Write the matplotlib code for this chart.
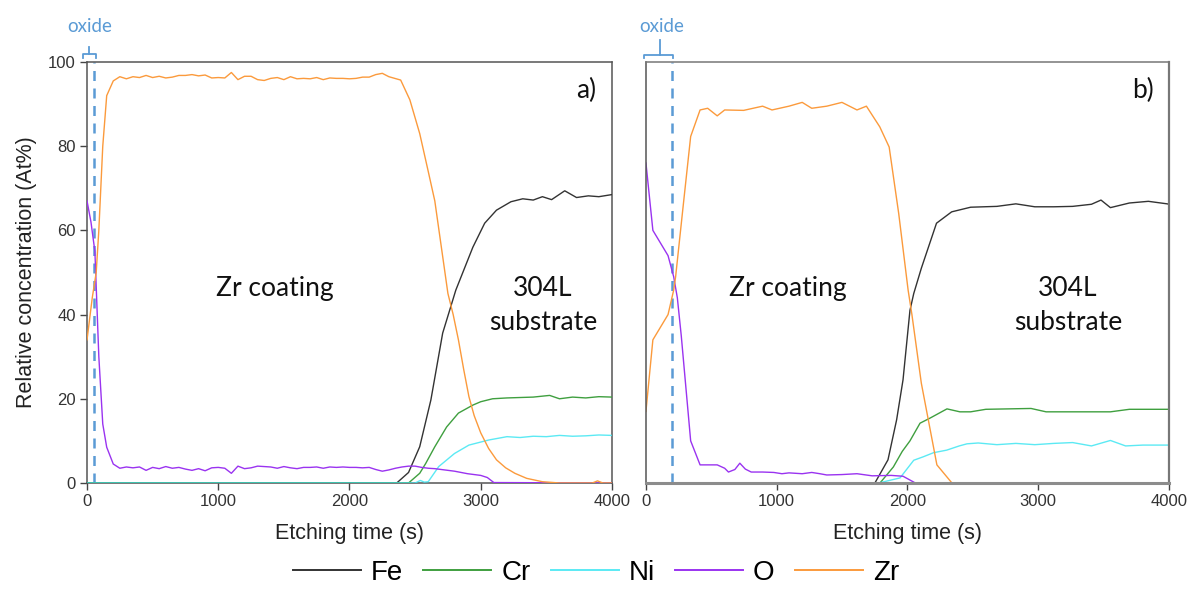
import matplotlib
matplotlib.use("Agg")
import matplotlib.pyplot as plt

plt.rcParams['font.family'] = ['Liberation Sans', 'DejaVu Sans']

# colours
C_FE = '#333333'
C_CR = '#3f9f3f'
C_NI = '#3fe6f2'
C_O = '#9a33f0'
C_ZR = '#fb9a3c'
C_OX = '#5b9bd5'

# ---- panel a) ----
fe_a_t = [0, 2360, 2450, 2535, 2620, 2710, 2810, 2940, 3030, 3120, 3230, 3320, 3400, 3470, 3540, 3640, 3730, 3820, 3900, 4000]
fe_a = [0, 0, 2.5, 8.6, 19.7, 35.6, 45.8, 56, 61.7, 64.8, 66.8, 67.5, 67.2, 68, 67.3, 69.4, 67.8, 68.2, 68.0, 68.5]

cr_a_t = [0, 2450, 2535, 2580, 2650, 2740, 2830, 2940, 3000, 3090, 3200, 3300, 3400, 3525, 3600, 3700, 3800, 3900, 4000]
cr_a = [0, 0, 2.3, 4.6, 8.6, 13.3, 16.6, 18.5, 19.3, 20.0, 20.2, 20.3, 20.4, 20.8, 20.0, 20.4, 20.2, 20.5, 20.4]

ni_a_t = [0, 2500, 2540, 2570, 2600, 2680, 2800, 2910, 3060, 3200, 3300, 3400, 3500, 3600, 3700, 3800, 3900, 4000]
ni_a = [0, 0, 0.6, 0.2, 0.3, 3.9, 7.0, 9.0, 10.2, 11.0, 10.8, 11.1, 11.0, 11.3, 11.1, 11.2, 11.4, 11.3]

o_a_t = [0, 30, 60, 90, 120, 150, 200, 250, 300, 350, 400, 450, 500, 550, 600, 650, 700, 750, 800,
         850, 900, 950, 1000, 1050, 1100, 1150, 1200, 1250, 1300, 1350, 1400, 1450, 1500, 1550, 1600,
         1650, 1700, 1750, 1800, 1850, 1900, 1950, 2000, 2050, 2100, 2150, 2200, 2250, 2300, 2350,
         2400, 2450, 2500, 2550, 2600, 2650, 2700, 2750, 2800, 2850, 2900, 2950, 3000, 3050, 3100, 4000]
o_a = [67, 62, 55, 30, 14, 8.5, 4.5, 3.5, 3.8, 3.6, 3.8, 3.0, 3.7, 3.4, 3.9, 3.5, 3.7, 3.3, 3.0,
       3.4, 2.9, 3.6, 3.7, 3.5, 2.3, 4.0, 3.4, 3.6, 4.0, 3.9, 3.8, 3.5, 3.9, 3.6, 3.4,
       3.7, 3.7, 3.8, 3.5, 3.8, 3.7, 3.8, 3.7, 3.7, 3.6, 3.7, 3.2, 2.8, 3.1, 3.5,
       3.8, 4.0, 4.0, 3.7, 3.5, 3.4, 3.2, 3.0, 2.8, 2.5, 2.2, 2.0, 1.8, 1.3, 0.1, 0]

zr_a_t = [0, 40, 70, 90, 120, 150, 200, 250, 300, 350, 400, 450, 500, 550, 600, 650, 700, 750, 800,
          850, 900, 950, 1000, 1050, 1100, 1150, 1200, 1250, 1300, 1350, 1400, 1450, 1500, 1550, 1600,
          1650, 1700, 1750, 1800, 1850, 1900, 1950, 2000, 2050, 2100, 2150, 2200, 2250, 2300, 2390,
          2460, 2535, 2600, 2650, 2700, 2750, 2790, 2830, 2870, 2910, 2950, 3000, 3060, 3120, 3190,
          3260, 3350, 3470, 3600, 3850, 3890, 3930, 4000]
zr_a = [34, 44, 50, 60, 80, 92, 95.5, 96.5, 96, 96.5, 96.3, 96.8, 96.3, 96.6, 96.2, 96.4, 96.8, 96.8, 97,
        96.7, 96.9, 96.2, 96.3, 96.2, 97.5, 95.8, 96.6, 96.6, 95.8, 95.6, 96.1, 96.3, 95.8, 96.5, 96,
        96.1, 96, 96.3, 95.8, 96.2, 96.1, 96.1, 96, 96.1, 96.4, 96.4, 97, 97.3, 96.5, 95.7,
        91, 83, 74, 67, 56, 45, 40, 34, 27, 20.5, 16, 11.9, 8.2, 5.5, 3.6,
        2.3, 1.1, 0.3, 0, 0, 0.5, 0, 0]

# ---- panel b) ----
fe_b_t = [0, 1751, 1851, 1917, 1966, 2019, 2048, 2106, 2222, 2338, 2483, 2684, 2829, 2974, 3118, 3263, 3407, 3480, 3552, 3697, 3842, 3986, 4000]
fe_b = [0, 0, 5.5, 15, 24.5, 41, 45, 51, 61.7, 64.4, 65.5, 65.7, 66.3, 65.6, 65.6, 65.7, 66.2, 67.2, 65.4, 66.5, 66.9, 66.3, 66.2]

cr_b_t = [0, 1790, 1892, 1960, 2019, 2096, 2172, 2302, 2401, 2483, 2599, 2945, 3060, 3300, 3552, 3697, 4000]
cr_b = [0, 0, 3.8, 7.5, 10, 14.2, 15.4, 17.6, 16.9, 16.9, 17.5, 17.7, 16.9, 16.9, 16.9, 17.5, 17.5]

ni_b_t = [0, 1780, 1943, 2048, 2119, 2200, 2300, 2396, 2455, 2541, 2684, 2829, 2974, 3118, 3263, 3407, 3552, 3668, 3800, 4000]
ni_b = [0, 0, 1.2, 5.4, 6.2, 7.2, 7.8, 8.8, 9.3, 9.5, 9.1, 9.4, 9.1, 9.4, 9.6, 8.8, 10.1, 8.8, 9.0, 9.0]

o_b_t = [0, 53, 169, 212, 240, 270, 342, 414, 545, 602, 631, 680, 718, 760, 805, 892, 978, 1040, 1094,
         1195, 1268, 1330, 1383, 1499, 1614, 1730, 1875, 1966, 2019, 2060]
o_b = [76, 60, 54, 49, 44, 35, 10, 4.3, 4.3, 3.5, 2.6, 3.2, 4.7, 3.3, 2.6, 2.6, 2.5, 2.2, 2.4,
       2.2, 2.5, 2.2, 1.9, 2.0, 2.2, 1.7, 1.8, 1.6, 0.7, 0]

zr_b_t = [0, 53, 169, 212, 227, 284, 342, 414, 472, 545, 602, 747, 892, 964, 1094, 1195, 1268, 1383,
          1499, 1614, 1686, 1788, 1860, 1933, 2005, 2034, 2106, 2225, 2340]
zr_b = [17, 34, 40, 45.8, 49, 65.6, 82.3, 88.6, 89, 87.2, 88.6, 88.5, 89.5, 88.6, 89.5, 90.4, 89, 89.5,
        90.4, 88.6, 89.5, 84.6, 79.8, 64, 45.8, 40, 23.7, 4.3, 0]

x_ticks = [0, 1000, 2000, 3000, 4000]
y_ticks = [0, 20, 40, 60, 80, 100]
oxide_a = 55
oxide_b = 200

fig = plt.figure(figsize=(11.92, 5.89), dpi=100)
ax_a = fig.add_axes([0.073, 0.180, 0.4404, 0.7148])
ax_b = fig.add_axes([0.5419, 0.180, 0.4388, 0.7148])

panels = [
    (ax_a, (fe_a_t, fe_a), (cr_a_t, cr_a), (ni_a_t, ni_a), (o_a_t, o_a), (zr_a_t, zr_a), oxide_a, 'a)'),
    (ax_b, (fe_b_t, fe_b), (cr_b_t, cr_b), (ni_b_t, ni_b), (o_b_t, o_b), (zr_b_t, zr_b), oxide_b, 'b)'),
]

handles = []
for ax, fe, cr, ni, o, zr, ox, tag in panels:
    lw = 1.0
    zo = 3 if tag == 'a)' else 2
    h_fe, = ax.plot(*fe, color=C_FE, lw=lw, label='Fe', zorder=zo)
    h_cr, = ax.plot(*cr, color=C_CR, lw=lw, label='Cr', zorder=zo)
    h_ni, = ax.plot(*ni, color=C_NI, lw=lw, label='Ni', zorder=zo, alpha=0.85)
    h_o, = ax.plot(*o, color=C_O, lw=lw, label='O', zorder=zo)
    h_zr, = ax.plot(*zr, color=C_ZR, lw=lw, label='Zr', zorder=zo)
    if not handles:
        handles = [h_fe, h_cr, h_ni, h_o, h_zr]

    ax.axvline(ox, color=C_OX, lw=1.8, ls=(0, (4, 3)), zorder=1)

    ax.set_xlim(0, 4000)
    ax.set_ylim(0, 100)
    ax.set_xticks(x_ticks)
    ax.set_yticks(y_ticks)
    ax.tick_params(direction='out', length=5, width=1, colors='#444444',
                   labelsize=12, labelcolor='#333333', pad=3)
    ax.set_xlabel('Etching time (s)', fontsize=15.5, color='#222222', labelpad=10)
    for s in ax.spines.values():
        s.set_color('#555555')
        s.set_linewidth(1.1)

    ax.text(1432 if tag == 'a)' else 1086, 46.3, 'Zr coating', fontsize=19,
            family='Lato', ha='center', va='center', color='#111111')
    sx = 3474 if tag == 'a)' else 3227
    ax.text(sx, 46.3, '304L', fontsize=19, family='Lato', ha='center', va='center', color='#111111')
    ax.text(sx, 38, 'substrate', fontsize=19, family='Lato', ha='center', va='center', color='#111111')
    ax.text(3800, 93.3, tag, fontsize=19, family='Lato', ha='center', va='center', color='#111111')

ax_a.set_ylabel('Relative concentration (At%)', fontsize=15.5, color='#222222', labelpad=8)

ax_b.tick_params(axis='y', length=0, labelleft=False)
ax_b.spines['bottom'].set_color('#8c8c8c')
ax_b.spines['bottom'].set_linewidth(2.2)
ax_b.spines['top'].set_color('#777777')
ax_b.spines['right'].set_color('#777777')
ax_b.spines['right'].set_linewidth(1.6)

# "oxide" brackets above each panel
ax_a.plot([-30, -30, 69, 69], [100.95, 101.9, 101.9, 100.95], color=C_OX, lw=1.3, clip_on=False)
ax_a.plot([15, 15], [101.9, 103.6], color=C_OX, lw=1.3, clip_on=False)
ax_a.text(23, 108.5, 'oxide', fontsize=13.5, family='Lato', color=C_OX, ha='center', va='center')

ax_b.plot([-15, -15, 206, 206], [101.0, 101.7, 101.7, 101.0], color=C_OX, lw=1.3, clip_on=False)
ax_b.plot([107, 107], [101.7, 105.2], color=C_OX, lw=1.3, clip_on=False)
ax_b.text(122, 108.5, 'oxide', fontsize=13.5, family='Lato', color=C_OX, ha='center', va='center')

leg = fig.legend(handles=handles, loc='center', bbox_to_anchor=(0.5, 0.027), ncol=5,
                 frameon=False, fontsize=20, handlelength=2.45, handletextpad=0.36,
                 columnspacing=0.72)
for ln in leg.get_lines():
    ln.set_linewidth(1.4)

fig.savefig('out.png', dpi=100)
